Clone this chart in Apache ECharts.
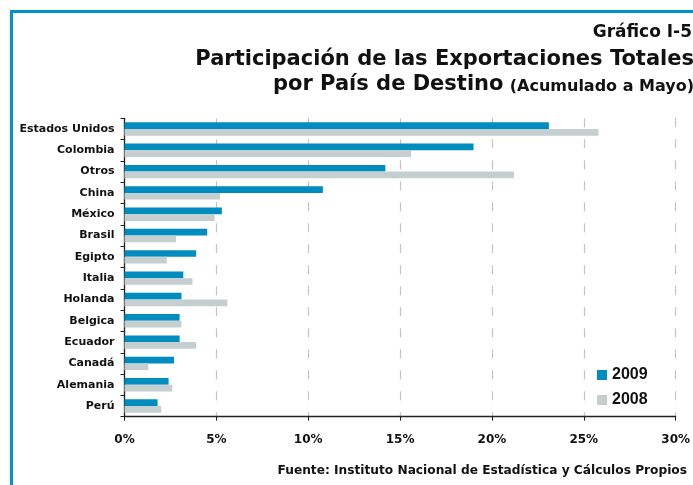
<!DOCTYPE html>
<html>
<head>
<meta charset="utf-8">
<script src="https://cdn.jsdelivr.net/npm/echarts@6/dist/echarts.min.js"></script>
<style>
  html, body { margin: 0; padding: 0; background: #fff; }
  #main { width: 693px; height: 485px; }
</style>
</head>
<body>
<div id="main"></div>
<script>
// paises en el orden del grafico (arriba -> abajo)
const paises = ['Estados Unidos', 'Colombia', 'Otros', 'China', 'México', 'Brasil', 'Egipto',
  'Italia', 'Holanda', 'Belgica', 'Ecuador', 'Canadá', 'Alemania', 'Perú'];
const datos2009 = [23.1, 19.0, 14.2, 10.8, 5.3, 4.5, 3.9, 3.2, 3.1, 3.0, 3.0, 2.7, 2.4, 1.8];
const datos2008 = [25.8, 15.6, 21.2, 5.2, 4.9, 2.8, 2.3, 3.7, 5.6, 3.1, 3.9, 1.3, 2.6, 2.0];

const azul = '#008cbe';
const gris = '#c5cfcf';
// la fuente del original es mas ancha que Arial, DejaVu se acerca mas
const fuente = '"DejaVu Sans", "Liberation Sans", Arial, sans-serif';
const fuenteLeyenda = '"Liberation Sans", Arial, sans-serif';

const chart = echarts.init(document.getElementById('main'), null, { renderer: 'canvas' });

const option = {
  backgroundColor: '#fff',
  textStyle: { fontFamily: fuente },
  title: [
    {
      text: 'Gráfico I-5',
      right: -4, top: 19,
      textStyle: { fontSize: 17, fontWeight: 'bold', color: '#111', fontFamily: fuente }
    },
    {
      text: 'Participación de las Exportaciones Totales',
      right: -6, top: 44,
      textStyle: { fontSize: 21, fontWeight: 'bold', color: '#111', fontFamily: fuente }
    },
    {
      text: '{a|por País de Destino} {b|(Acumulado a Mayo)}',
      right: -6, top: 69,
      textStyle: {
        fontFamily: fuente,
        rich: {
          a: { fontSize: 21, fontWeight: 'bold', color: '#111', fontFamily: fuente },
          b: { fontSize: 16, fontWeight: 'bold', color: '#111', fontFamily: fuente, padding: [4, 0, 0, 0] }
        }
      }
    },
    {
      text: 'Fuente: Instituto Nacional de Estadística y Cálculos Propios',
      right: 1, top: 460,
      textStyle: { fontSize: 12.2, fontWeight: 'bold', color: '#111', fontFamily: fuente }
    }
  ],
  legend: {
    orient: 'vertical',
    left: 592, top: 362,
    itemWidth: 10, itemHeight: 10,
    itemGap: 9,
    icon: 'rect',
    data: ['2009', '2008'],
    textStyle: { fontSize: 16, fontWeight: 'bold', color: '#111', fontFamily: fuenteLeyenda }
  },
  grid: { left: 124.5, right: 13.7, top: 118.3, bottom: 68.3, containLabel: false },
  xAxis: {
    type: 'value',
    min: 0, max: 30, interval: 5,
    axisLine: { show: true, lineStyle: { color: '#222', width: 1.3 } },
    axisTick: { show: true, length: 4, inside: false, lineStyle: { color: '#222' } },
    axisLabel: { formatter: '{value}%', fontSize: 12, fontWeight: 'bold', color: '#111', margin: 17 },
    splitLine: { show: true, lineStyle: { color: '#c4c4c4', width: 1.2, type: [9, 12] } }
  },
  yAxis: {
    type: 'category',
    inverse: true,
    data: paises,
    axisLine: { show: true, lineStyle: { color: '#222', width: 1.3 } },
    axisTick: { show: true, length: 4, lineStyle: { color: '#222' } },
    axisLabel: { fontSize: 11, fontWeight: 'bold', color: '#111', margin: 10 }
  },
  series: [
    {
      name: '2009', type: 'bar',
      data: datos2009,
      barWidth: 6.7, barGap: '0%',
      itemStyle: { color: azul },
      silent: true
    },
    {
      name: '2008', type: 'bar',
      data: datos2008,
      barWidth: 6.7,
      itemStyle: { color: gris },
      silent: true
    }
  ],
  graphic: [
    {
      type: 'rect',
      shape: { x: 11.5, y: 11.5, width: 720, height: 520 },
      style: { fill: null, stroke: '#0093c9', lineWidth: 3 },
      silent: true
    }
  ]
};

chart.setOption(option);
</script>
</body>
</html>
